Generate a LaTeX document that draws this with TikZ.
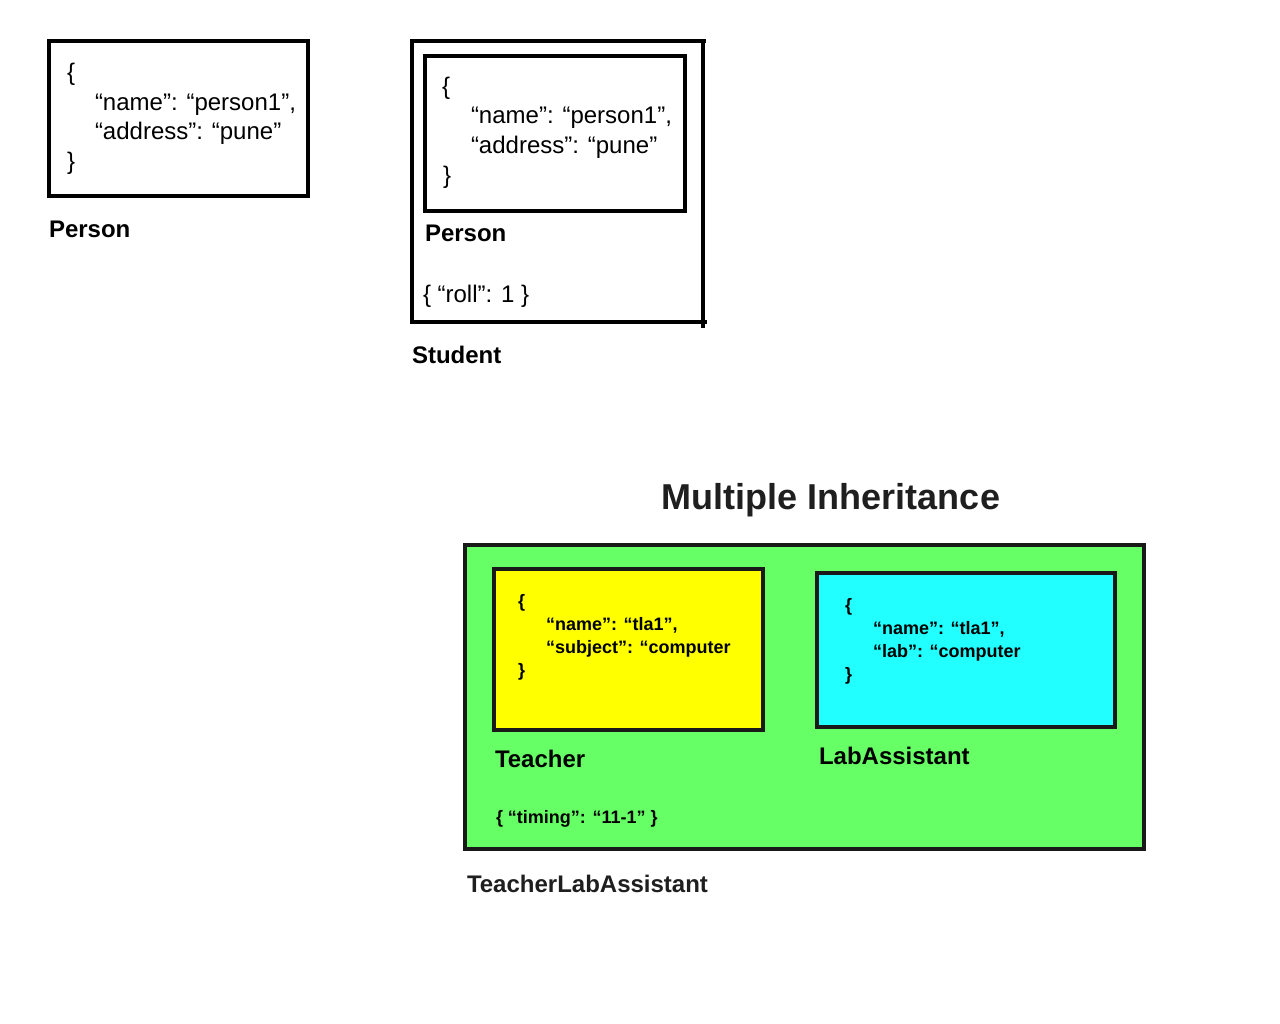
\documentclass[tikz,border=0pt]{standalone}
\usepackage{fontspec}
\setmainfont{Liberation Sans}
\begin{document}
\begin{tikzpicture}[x=1pt,y=-1pt,
  boxline/.style={line width=4pt,draw=black},
  cboxline/.style={line width=4pt,draw=black!90},
  txt/.style={anchor=base west,inner sep=0pt,outer sep=0pt,font=\fontsize{24}{24}\selectfont},
  btxt/.style={anchor=base west,inner sep=0pt,outer sep=0pt,font=\fontsize{24}{24}\selectfont\bfseries},
  stxt/.style={anchor=base west,inner sep=0pt,outer sep=0pt,font=\fontsize{18}{18}\selectfont\bfseries},
  lbl/.style={anchor=base west,inner sep=0pt,outer sep=0pt,font=\fontsize{24}{24}\selectfont\bfseries,text=black!88}
]
\definecolor{boxgreen}{HTML}{66FF66}
\definecolor{boxyellow}{HTML}{FFFF00}
\definecolor{boxcyan}{HTML}{22FFFF}
\useasboundingbox[fill=white] (0,0) rectangle (1280,1024);

% Person box
\draw[boxline] (49,41.3) rectangle (308,196);
\node[txt] (p1a) at (67,81) {\{};
\node[txt] (p1b) at (95,111) {“name”: “person1”,};
\node[txt] (p1c) at (95,140) {“address”: “pune”};
\node[txt] (p1d) at (67,170) {\}};
\node[btxt] (p1l) at (49,238) {Person};

% Student box
\draw[boxline] (410,41.3) -- (705.7,41.3);
\draw[boxline] (703,39.3) -- (703,327.7);
\draw[boxline] (410,322) -- (706.7,322);
\draw[boxline] (412,39.3) -- (412,324);
\draw[boxline] (425,56) rectangle (685,211);
\node[txt] (p2a) at (442,95) {\{};
\node[txt] (p2b) at (471,124) {“name”: “person1”,};
\node[txt] (p2c) at (471,154) {“address”: “pune”};
\node[txt] (p2d) at (443,184) {\}};
\node[btxt] (p2l) at (425,242) {Person};
\node[txt] (roll) at (423,303) {\{ “roll”: 1 \}};
\node[btxt] (stl2) at (412,363) {Student};

% Multiple inheritance
\node[anchor=base,inner sep=0pt,font=\fontsize{36}{36}\selectfont\bfseries,text=black!88] (title) at (831,509) {Multiple Inheritance};
\draw[cboxline,fill=boxgreen] (464.7,544.7) rectangle (1144,848.8);
\draw[cboxline,fill=boxyellow] (494.3,568.7) rectangle (763,729.7);
\draw[cboxline,fill=boxcyan] (817.3,573) rectangle (1115,727);
\node[stxt] (ta) at (518,607) {\{};
\node[stxt] (tb) at (546,630) {“name”: “tla1”,};
\node[stxt] (tc) at (546,653) {“subject”: “computer};
\node[stxt] (td) at (518,676) {\}};
\node[stxt] (la) at (845,611) {\{};
\node[stxt] (lb) at (873,634) {“name”: “tla1”,};
\node[stxt] (lc) at (873,657) {“lab”: “computer};
\node[stxt] (ld) at (845,680) {\}};
\node[btxt] (tl) at (495,767) {Teacher};
\node[btxt] (ll) at (819,764) {LabAssistant};
\node[stxt] (tim) at (496,823) {\{ “timing”: “11-1” \}};
\node[lbl] (tla) at (467,892) {TeacherLabAssistant};
\end{tikzpicture}
\end{document}
